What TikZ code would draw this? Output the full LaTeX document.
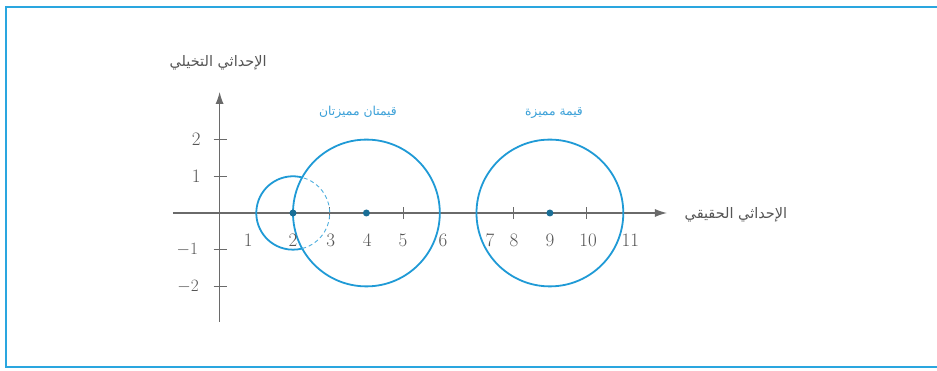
\documentclass[tikz,border=0pt]{standalone}
\usepackage{fontspec}
\newfontfamily\arabicfont[Script=Arabic]{DejaVu Sans}
\TeXXeTstate=1
\usetikzlibrary{arrows.meta,calc}
\definecolor{frameblue}{HTML}{2AA6DF}
\definecolor{circblue}{HTML}{1F9AD6}
\definecolor{dotblue}{HTML}{1A6E96}
\definecolor{axisgray}{HTML}{6A6A6A}
\definecolor{txtgray}{HTML}{555555}
\definecolor{lblblue}{HTML}{3AA0D8}
\tikzset{
  axis/.style={draw=axisgray,line width=1.2pt,-{Latex[length=12pt,width=8pt]}},
  tick/.style={draw=axisgray,line width=1pt},
  eig/.style={draw=circblue,line width=1.8pt},
  eigdash/.style={draw=circblue!80,line width=0.9pt,dash pattern=on 4pt off 3pt},
  dotnode/.style={circle,fill=dotblue,inner sep=0pt,minimum size=7pt},
  num/.style={text=txtgray,font=\fontsize{19}{20}\selectfont,inner sep=0pt},
  arlbl/.style={text=txtgray,font=\arabicfont\fontsize{14.5}{16}\selectfont,inner sep=0pt},
  arblue/.style={text=lblblue,font=\arabicfont\fontsize{12.3}{14}\selectfont,inner sep=0pt},
  frame/.style={draw=frameblue,line width=2pt}
}
\begin{document}
\begin{tikzpicture}[x=1pt,y=1pt]
\useasboundingbox (0,0) rectangle (937,371);
\fill[white] (0,0) rectangle (937,371);
\coordinate (f1) at (945,364);
\coordinate (f2) at (6,364);
\coordinate (f3) at (6,4);
\coordinate (f4) at (945,4);
\draw[frame] (f1) -- (f2) -- (f3) -- (f4);
\begin{scope}[shift={(219.6,158)},x=36.7pt,y=36.7pt]
  % axes
  \coordinate (xs) at (-1.27,0);
  \coordinate (xe) at (12.19,0);
  \coordinate (ys) at (0,-2.97);
  \coordinate (ye) at (0,3.3);
  \draw[axis] (xs) -- (xe);
  \draw[axis] (ys) -- (ye);
  % y ticks
  \foreach \v in {2,1,-1,-2}{
    \coordinate (ya\v) at (-0.16,\v);
    \coordinate (yb\v) at (0.2,\v);
    \draw[tick] (ya\v) -- (yb\v);
  }
  % x ticks
  \foreach \v in {3,5,8,10}{
    \coordinate (xa\v) at (\v,-0.16);
    \coordinate (xb\v) at (\v,0.16);
    \draw[tick] (xa\v) -- (xb\v);
  }
  % circles
  \coordinate (c2) at (2,0);
  \coordinate (c4) at (4,0);
  \coordinate (c9) at (9,0);
  \draw[eig] (c4) circle (2);
  \draw[eig] (c9) circle (2);
  \draw[eig] ($(c2)+(75.5:1)$) arc (75.5:284.5:1);
  \draw[eigdash] ($(c2)+(-75.5:1)$) arc (-75.5:75.5:1);
  % eigenvalue dots
  \node[dotnode] (p2) at (c2) {};
  \node[dotnode] (p4) at (c4) {};
  \node[dotnode] (p9) at (c9) {};
  % x labels
  \node[num] (n1) at (0.78,-0.74) {1};
  \node[num] (n2) at (2,-0.74) {2};
  \node[num] (n3) at (3.03,-0.74) {3};
  \node[num] (n4) at (4.02,-0.74) {4};
  \node[num] (n5) at (5,-0.74) {5};
  \node[num] (n6) at (6.09,-0.74) {6};
  \node[num] (n7) at (7.37,-0.74) {7};
  \node[num] (n8) at (8.02,-0.74) {8};
  \node[num] (n9) at (9,-0.74) {9};
  \node[num] (n10) at (10.04,-0.74) {10};
  \node[num] (n11) at (11.19,-0.74) {11};
  % y labels
  \node[num] (m2) at (-0.64,2) {2};
  \node[num] (m1) at (-0.64,1) {1};
  \node[num] (mm1) at (-0.88,-1) {$-1$};
  \node[num] (mm2) at (-0.86,-2) {$-2$};
  % arabic labels
  \node[arlbl] (ylab) at (-0.04,4.09) {\beginR الإحداثي التخيلي\endR};
  \node[arlbl] (xlab) at (14.07,-0.05) {\beginR الإحداثي الحقيقي\endR};
  \node[arblue] (two) at (3.77,2.75) {\beginR قيمتان مميزتان\endR};
  \node[arblue] (one) at (9.11,2.72) {\beginR قيمة مميزة\endR};
\end{scope}
\end{tikzpicture}
\end{document}
